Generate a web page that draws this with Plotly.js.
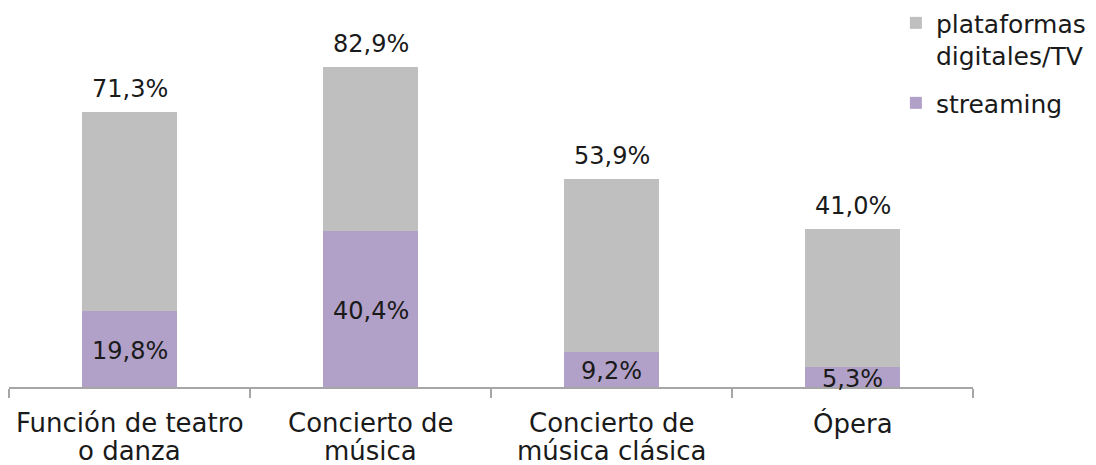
<!DOCTYPE html>
<html>
<head>
<meta charset="utf-8">
<script src="https://cdn.plot.ly/plotly-3.0.1.min.js"></script>
<style>html,body{margin:0;padding:0;background:#fff;}#chart{width:1096px;height:465px;}</style>
</head>
<body>
<div id="chart"></div>
<script>
const categories = ["Función de teatro<br>o danza", "Concierto de<br>música", "Concierto de<br>música clásica", "Ópera"];
const streaming = [19.8, 40.4, 9.2, 5.3];
const totals = [71.3, 82.9, 53.9, 41.0];
const plataformas = totals.map((t, i) => +(t - streaming[i]).toFixed(1));
const streamingLabels = ["19,8%", "40,4%", "9,2%", "5,3%"];
const totalLabels = ["71,3%", "82,9%", "53,9%", "41,0%"];

const FONT = "DejaVu Sans, sans-serif";
const TXT = "#1a1a1a";

const traces = [
  {type: "bar", name: "streaming", x: categories, y: streaming,
   marker: {color: "#b1a0c7"}, hoverinfo: "none", legendgroup: "s", legendrank: 2},
  {type: "bar", name: "plataformas<br>digitales/TV", x: categories, y: plataformas,
   marker: {color: "#bfbfbf"}, hoverinfo: "none", legendgroup: "p", legendrank: 1}
];

const annotations = [];
categories.forEach((c, i) => {
  annotations.push({x: c, y: totals[i], text: totalLabels[i], showarrow: false,
    yanchor: "bottom", yshift: 7, font: {family: FONT, size: 24, color: TXT}});
  annotations.push({x: c, y: streaming[i] / 2, text: streamingLabels[i], showarrow: false,
    yanchor: "middle", yshift: -2, font: {family: FONT, size: 24, color: TXT}});
  c.split("<br>").forEach((line, k) => {
    annotations.push({x: c, y: 0, yref: "paper", text: line, showarrow: false,
      yanchor: "middle", yshift: -36 - 28 * k, font: {family: FONT, size: 26, color: TXT}});
  });
});

const layout = {
  width: 1096, height: 465,
  margin: {l: 9, r: 123, t: 40, b: 78, autoexpand: false},
  barmode: "stack", bargap: 0.602,
  paper_bgcolor: "#fff", plot_bgcolor: "#fff",
  font: {family: FONT, size: 24, color: TXT},
  xaxis: {showline: true, linecolor: "#a6a6a6", linewidth: 1.5,
          ticks: "outside", tickson: "boundaries", ticklen: 9, tickcolor: "#a6a6a6", tickwidth: 1.5,
          showticklabels: false, showgrid: false, zeroline: false, automargin: false},
  yaxis: {range: [0, 90], visible: false, showgrid: false, zeroline: false, automargin: false},
  showlegend: true,
  legend: {x: 0.92, y: 1.115, xanchor: "left", yanchor: "top", traceorder: "grouped",
           valign: "top", font: {family: FONT, size: 25, color: TXT}, bgcolor: "rgba(0,0,0,0)",
           itemwidth: 30, tracegroupgap: 12},
  annotations: annotations
};

Plotly.newPlot("chart", traces, layout, {staticPlot: true, displayModeBar: false});
</script>
</body>
</html>
